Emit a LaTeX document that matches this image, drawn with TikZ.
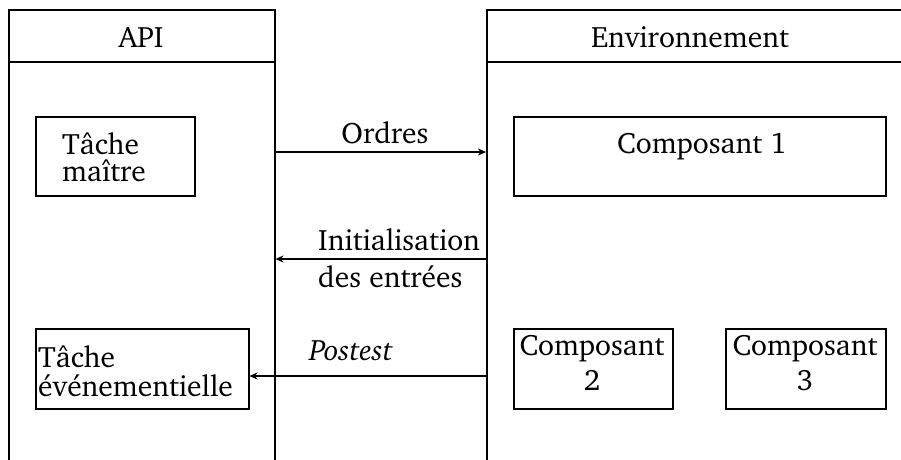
\documentclass[tikz,border=0pt]{standalone}
\usepackage[T1]{fontenc}
\usepackage{charter}
\usetikzlibrary{arrows.meta}
\begin{document}
\begin{tikzpicture}[x=1pt,y=-1pt,
  ln/.style={line width=1.5pt},
  box/.style={draw,line width=1.5pt,inner sep=0pt,anchor=north west},
  txt/.style={inner sep=0pt,font=\fontsize{29.5}{34}\selectfont},
  arr/.style={line width=1.2pt,-{Stealth[length=8pt,width=7pt,inset=2.5pt]}}]
\clip (0,0) rectangle (901,459);
\useasboundingbox (0,0) rectangle (901,459);
% frames
\node[box,minimum width=266pt,minimum height=600pt] (api) at (8,9) {};
\node[box,minimum width=500pt,minimum height=600pt] (env) at (486,9) {};
\coordinate (hy) at (0,62);
\draw[ln] (api.west |- hy) -- (api.east |- hy);
\draw[ln] (env.west |- hy) -- (env.east |- hy);
\node[txt,anchor=base] (apititle) at (141,47) {API};
\node[txt,anchor=base] (envtitle) at (690,47) {Environnement};
% inner boxes
\node[box,minimum width=159pt,minimum height=79pt] (tm) at (35,116) {};
\node[box,minimum width=213pt,minimum height=80pt] (te) at (35,328) {};
\node[box,minimum width=372pt,minimum height=79pt] (c1) at (513,116) {};
\node[box,minimum width=159pt,minimum height=80pt] (c2) at (513,328) {};
\node[box,minimum width=160pt,minimum height=80pt] (c3) at (725,328) {};
% texts
\node[txt,anchor=north west,align=left,font=\fontsize{29.5}{27}\selectfont] (tmtext) at (62,132) {T\^ache\\ma\^{\i}tre};
\node[txt,anchor=north west,align=left,font=\fontsize{29.5}{29}\selectfont] (tetext) at (38,345) {T\^ache\\\'ev\'enementielle};
\node[txt,anchor=base] (c1text) at (702,153) {Composant 1};
\node[txt,anchor=north,align=center,font=\fontsize{29.5}{35}\selectfont] (c2text) at (592,335) {Composant\\2};
\node[txt,anchor=north,align=center,font=\fontsize{29.5}{35}\selectfont] (c3text) at (805,335) {Composant\\3};
% connectors
\coordinate (oy) at (0,152);
\coordinate (iy) at (0,259);
\coordinate (py) at (0,376);
\draw[arr] (api.east |- oy) -- (env.west |- oy);
\draw[arr] (env.west |- iy) -- (api.east |- iy);
\draw[arr] (env.west |- py) -- (te.east |- py);
\node[txt,anchor=base] (ordres) at (385,143) {Ordres};
\node[txt,anchor=north west,align=left,font=\fontsize{29.5}{37}\selectfont] (init) at (318,228) {Initialisation\\des entr\'ees};
\node[txt,anchor=base] (postest) at (351,360) {\itshape Postest};
\end{tikzpicture}
\end{document}
